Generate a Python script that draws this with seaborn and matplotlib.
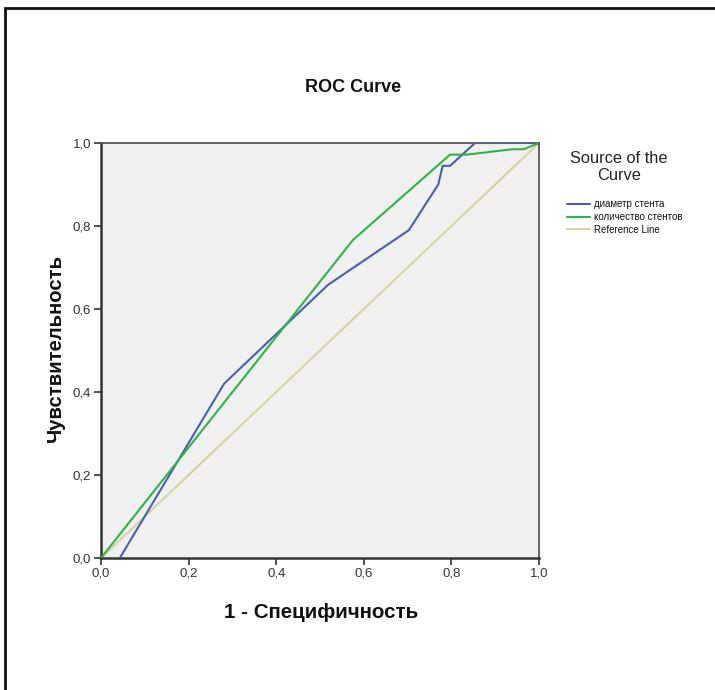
import matplotlib
matplotlib.use("Agg")
import matplotlib.pyplot as plt
from matplotlib.patches import Rectangle
from matplotlib.lines import Line2D
from matplotlib.ticker import FuncFormatter
import seaborn as sns
import pandas as pd

# Data
diam_fpr = [0.043, 0.281, 0.518, 0.703, 0.770, 0.780, 0.797, 0.854, 1.0]
diam_tpr = [0.0, 0.420, 0.658, 0.790, 0.900, 0.945, 0.945, 1.0, 1.0]
count_fpr = [0.0, 0.575, 0.797, 0.835, 0.940, 0.965, 1.0]
count_tpr = [0.0, 0.766, 0.972, 0.972, 0.985, 0.985, 1.0]
ref_fpr = [0.0, 1.0]
ref_tpr = [0.0, 1.0]
series_names = ["диаметр стента", "количество стентов", "Reference Line"]
series_colors = ["#4A5FA8", "#2DB34A", "#D8D3A0"]
ticks = [0.0, 0.2, 0.4, 0.6, 0.8, 1.0]

sns.set_theme(style="white")
plt.rcParams["font.family"] = ["Liberation Sans", "DejaVu Sans"]

fig = plt.figure(figsize=(7.15, 6.9), dpi=100)
ax = fig.add_axes([101/715, 1-558/690, (539-101)/715, (558-143)/690])
ax.set_facecolor("#F0F0F0")

frames = []
for name, xs, ys in zip(series_names, [diam_fpr, count_fpr, ref_fpr], [diam_tpr, count_tpr, ref_tpr]):
    frames.append(pd.DataFrame({"fpr": xs, "tpr": ys, "src": name}))
df = pd.concat(frames, ignore_index=True)

for name, col in zip(series_names, series_colors):
    sub = df[df["src"] == name]
    sns.lineplot(data=sub, x="fpr", y="tpr", sort=False, estimator=None,
                 color=col, lw=1.5, ax=ax, legend=False,
                 zorder=3 if name != "Reference Line" else 2)

ax.set_xlim(0, 1)
ax.set_ylim(0, 1)
ax.set_xticks(ticks)
ax.set_yticks(ticks)
fmt = FuncFormatter(lambda v, p: f"{v:.1f}".replace(".", ","))
ax.xaxis.set_major_formatter(fmt)
ax.yaxis.set_major_formatter(fmt)
ax.tick_params(axis="both", direction="out", length=5, width=1.2, color="#333333",
               labelsize=9.5, labelcolor="#333333", pad=2, bottom=True, left=True)
for s in ax.spines.values():
    s.set_color("#555555")
    s.set_linewidth(1.3)
ax.spines["left"].set_color("#333333")
ax.spines["bottom"].set_color("#333333")
ax.spines["left"].set_linewidth(1.8)
ax.spines["bottom"].set_linewidth(1.8)

ax.set_xlabel("")
ax.set_ylabel("")
fig.text(321/715, 1-612/690, "1 - Специфичность", ha="center", va="center",
         fontsize=14.8, fontweight="bold", color="#111111")
fig.text(55/715, 1-348/690, "Чувствительность", ha="center", va="center",
         rotation=90, fontsize=14.6, fontweight="bold", color="#111111")
fig.text(353/715, 1-88/690, "ROC Curve", ha="center", va="center",
         fontsize=13, fontweight="bold", color="#111111")

fig.text(619/715, 1-167/690, "Source of the\nCurve", ha="center", va="center",
         multialignment="center", fontsize=11.8, color="#222222", linespacing=1.12)

handles = [Line2D([0], [0], color=c, lw=1.5) for c in series_colors]
leg = fig.legend(handles, series_names,
                 loc="upper left", bbox_to_anchor=(567/715, 1-199/690),
                 frameon=False, fontsize=7, borderpad=0,
                 handlelength=2.4, handletextpad=0.4, labelspacing=0.3,
                 borderaxespad=0)
for t in leg.get_texts():
    t.set_color("#111111")

fig.patches.append(Rectangle((5/715, -0.1), 1.2, 1 - 8/690 + 0.1, transform=fig.transFigure,
                             fill=False, edgecolor="#111111", lw=2, zorder=0))

fig.savefig("out.png", dpi=100)
